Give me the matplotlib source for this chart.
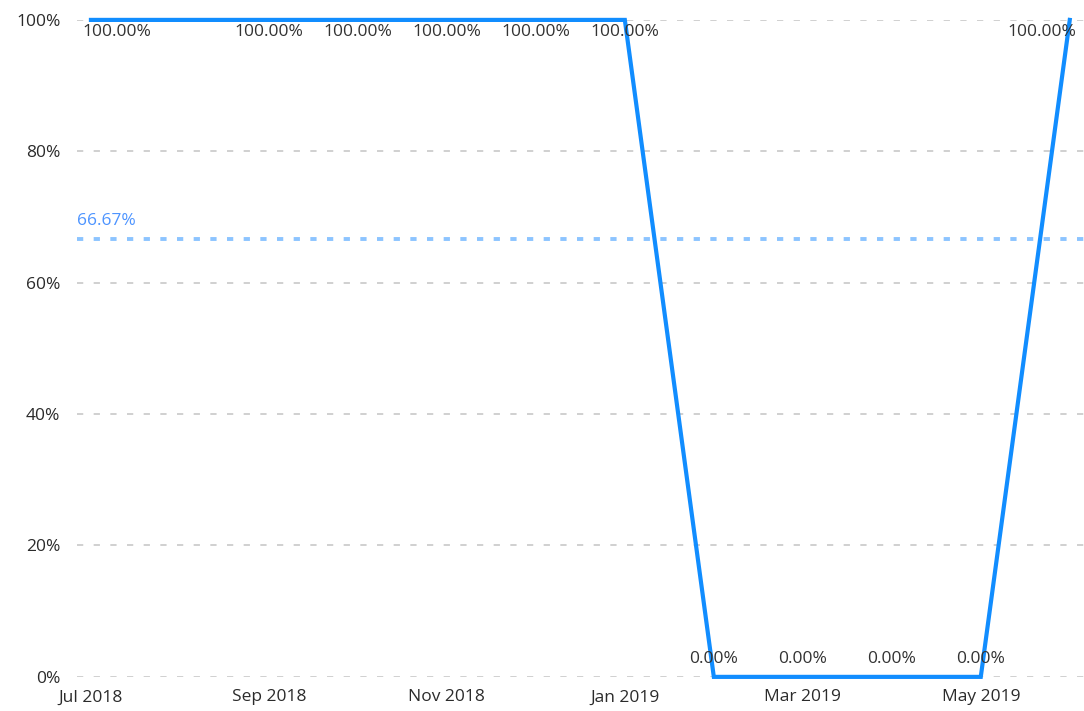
import matplotlib.pyplot as plt
import numpy as np

# monthly values (percent)
months = ["Jul 2018", "Aug 2018", "Sep 2018", "Oct 2018", "Nov 2018", "Dec 2018",
          "Jan 2019", "Feb 2019", "Mar 2019", "Apr 2019", "May 2019", "Jun 2019"]
values = [100, 100, 100, 100, 100, 100, 100, 0, 0, 0, 0, 100]
yticks = [0, 20, 40, 60, 80, 100]

plt.rcParams['font.family'] = ['Open Sans', 'DejaVu Sans']
plt.rcParams['lines.scale_dashes'] = False
fs = 12.5

fig = plt.figure(figsize=(10.84, 7.11), dpi=100)
ax = fig.add_axes([0.071, 0.048, 0.929, 0.924])

x = np.arange(len(months))
avg = np.mean(values)

# grid
for yt in yticks:
    ax.axhline(yt, color="#c8c8c8", lw=1.2, dashes=(4.5, 7.5), zorder=1)

# average line
ax.axhline(avg, color="#8cc4ff", lw=2.8, dashes=(4.5, 7.5), zorder=2)
ax.annotate("%.2f%%" % avg, xy=(0, avg), xycoords=("axes fraction", "data"),
            xytext=(0, 7), textcoords="offset points", color="#4d94ff",
            fontsize=fs, ha="left", va="bottom")

# main line
ax.plot(x, values, color="#118dff", lw=3.0, solid_joinstyle="miter",
        clip_on=False, zorder=3)

# data labels
for i, v in enumerate(values):
    if i == 1:
        continue  # hidden in the reference (overlap)
    ha = "center"
    dx = 0
    if i == 0:
        ha, dx = "left", -6
    elif i == len(values) - 1:
        ha, dx = "right", 5
    if v >= 50:
        ax.annotate("%.2f%%" % v, xy=(i, v), xytext=(dx, -3), textcoords="offset points",
                    ha=ha, va="top", fontsize=fs, color="#333333", zorder=4)
    else:
        ax.annotate("%.2f%%" % v, xy=(i, v), xytext=(dx, 7), textcoords="offset points",
                    ha=ha, va="bottom", fontsize=fs, color="#333333", zorder=4)

ax.set_xlim(-0.157, 11.16)
ax.set_ylim(0, 100)
ax.set_yticks(yticks)
ax.set_yticklabels(["%d%%" % t for t in yticks])
ax.set_xticks(x[::2])
ax.set_xticklabels(months[::2])
ax.tick_params(length=0, labelsize=fs, colors="#2b2b2b")
ax.tick_params(axis="y", pad=12)
ax.tick_params(axis="x", pad=9)
for lbl in ax.get_xticklabels()[:1]:
    lbl.set_x(0.04)
for s in ax.spines.values():
    s.set_visible(False)

fig.savefig("out.png", dpi=100)
